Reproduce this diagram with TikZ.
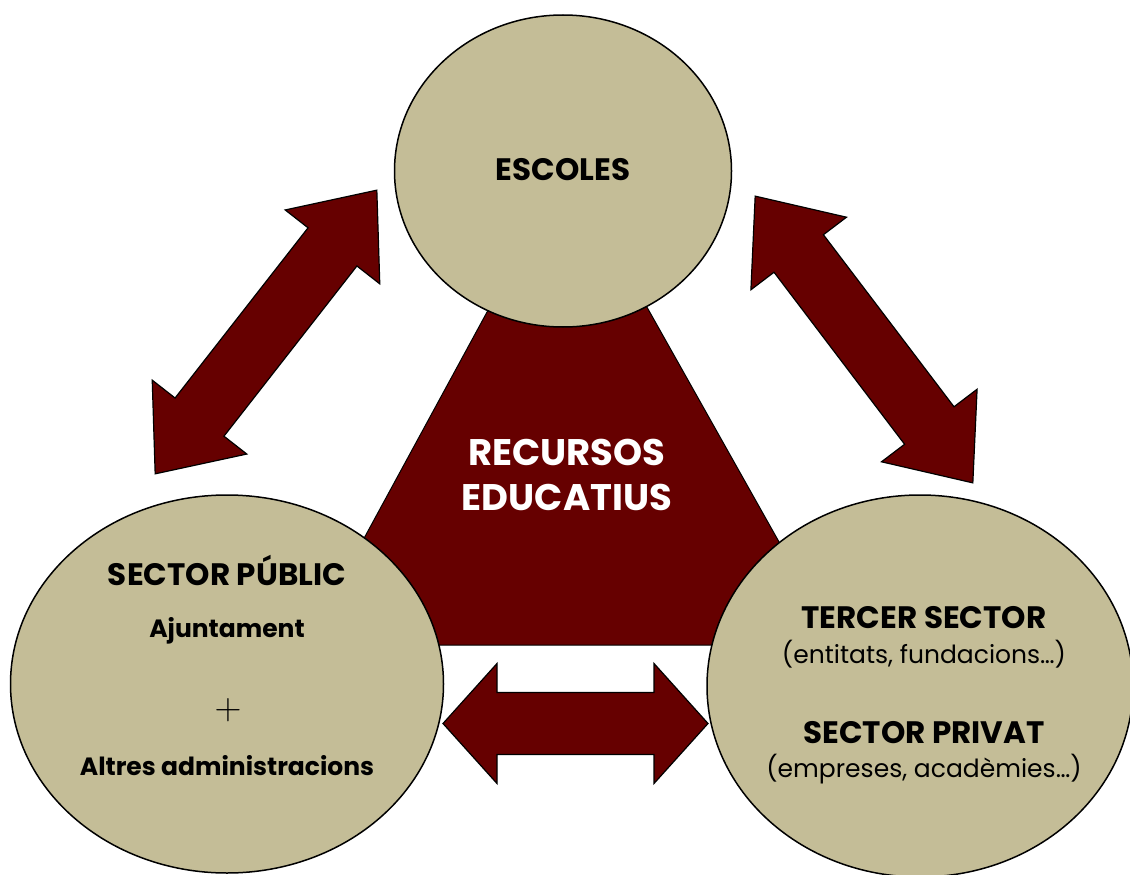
\documentclass[tikz,border=0pt]{standalone}
\usepackage{fontspec}
\setmainfont{Poppins}
\usetikzlibrary{shapes.geometric,positioning}
\definecolor{tanFill}{HTML}{C4BD97}
\definecolor{darkRed}{HTML}{660000}
\tikzset{
  pics/dblarrow/.style 2 args={code={
    \filldraw[fill=darkRed, draw=black, line width=1.2pt, line join=miter]
      (-#1,0) -- ({-#1+#2},60) -- ({-#1+#2},31) -- ({#1-#2},31) -- ({#1-#2},60) -- (#1,0)
      -- ({#1-#2},-60) -- ({#1-#2},-31) -- ({-#1+#2},-31) -- ({-#1+#2},-60) -- cycle;
  }}
}

\begin{document}
\begin{tikzpicture}[x=1pt, y=-1pt,
  zone/.style={ellipse, draw=black, line width=1.5pt, fill=tanFill, inner sep=0pt},
  head/.style={font=\bfseries\fontsize{31}{34}\selectfont, anchor=base},
  sub/.style={font=\bfseries\fontsize{25}{28}\selectfont, anchor=base},
  note/.style={font=\fontsize{25}{28}\selectfont, anchor=base},
  core/.style={font=\bfseries\fontsize{37}{40}\selectfont, text=white, anchor=base}
]
\useasboundingbox (0,0) rectangle (1130,875);
% triangle behind the circles
\coordinate (apex) at (567,165);
\coordinate (baseL) at (306,645);
\coordinate (baseR) at (837,645);
\filldraw[fill=darkRed, draw=black, line width=1pt] (apex) -- (baseL) -- (baseR) -- cycle;
\node[core] (recursos) at (567,465) {RECURSOS};
\node[core] (educatius) at (567,510) {EDUCATIUS};
% double arrows
\foreach \pos/\ang/\len/\hd in {{(266,332)}/52/180/72, {(864,339.5)}/127.2/180/72, {(575.5,723.5)}/0/132.5/54}
  \pic[rotate=\ang] at \pos {dblarrow={\len}{\hd}};
% circles
\node[zone, minimum width=337pt, minimum height=312pt] (escoles) at (563,171) {};
\node[zone, minimum width=433pt, minimum height=378pt] (public) at (227,684) {};
\node[zone, minimum width=426pt, minimum height=382pt] (tercer) at (920,686) {};
\node[head] (escolesT) at (563,180) {ESCOLES};
\node[head] (publicT) at (227,585) {SECTOR PÚBLIC};
\node[sub] (ajunt) at (227,637) {Ajuntament};
\node[note] (plus) at (228,719) {\scalebox{1.5}{$+$}};
\node[sub] (altres) at (227,775) {Altres administracions};
\node[head] (tercerT) at (924,628) {TERCER SECTOR};
\node[note] (entitats) at (924,663) {(entitats, fundacions…)};
\node[head] (privat) at (924,743) {SECTOR PRIVAT};
\node[note] (empreses) at (924,777) {(empreses, acadèmies…)};
\end{tikzpicture}
\end{document}
